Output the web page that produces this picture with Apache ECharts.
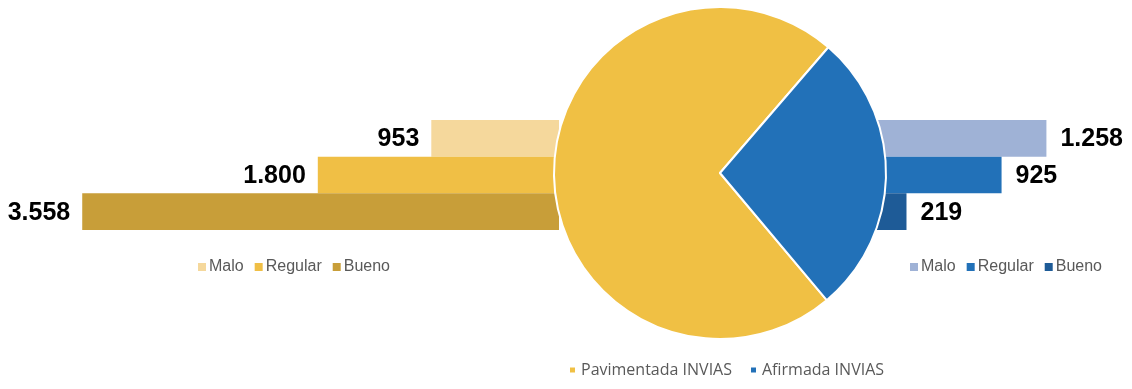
<!DOCTYPE html>
<html>
<head>
<meta charset="utf-8">
<script src="https://cdn.jsdelivr.net/npm/echarts@6/dist/echarts.min.js"></script>
<style>
html,body{margin:0;padding:0;background:#fff;}
#c{width:1132px;height:389px;}
</style>
</head>
<body>
<div id="c"></div>
<script>
// ---- data ----
const condiciones = ['Malo', 'Regular', 'Bueno'];
const pavimentadaValores = [953, 1800, 3558];
const afirmadaValores = [1258, 925, 219];
const pieNombres = ['Pavimentada INVIAS', 'Afirmada INVIAS'];
const pieValores = [6311, 2402];

// ---- styles ----
const pavColors = ['#F5D89C', '#F0BF45', '#C89E39'];
const afiColors = ['#9FB2D6', '#2271B8', '#1E5B97'];
const pieColors = ['#F0C044', '#2271B8'];

function fmt(v) {
  return String(v).replace(/\B(?=(\d{3})+(?!\d))/g, '.');
}
const AFI_SUFFIX = ' (A)';

const labelStyle = {
  show: true,
  fontFamily: 'Liberation Sans, Arial, sans-serif',
  fontWeight: 'bold',
  fontSize: 25,
  color: '#000',
  distance: 12,
  formatter: p => fmt(p.value)
};

const series = [];
condiciones.forEach((name, i) => {
  series.push({
    name: name,
    type: 'bar',
    xAxisIndex: 0, yAxisIndex: 0,
    barGap: '0%', barCategoryGap: '0%',
    data: [pavimentadaValores[i]],
    itemStyle: { color: pavColors[i] },
    label: Object.assign({ position: 'left', offset: [0, 1] }, labelStyle),
    z: 1, silent: true
  });
});
condiciones.forEach((name, i) => {
  series.push({
    name: name + AFI_SUFFIX,
    type: 'bar',
    xAxisIndex: 1, yAxisIndex: 1,
    barGap: '0%', barCategoryGap: '0%',
    data: [afirmadaValores[i]],
    itemStyle: { color: afiColors[i] },
    label: Object.assign({ position: 'right', offset: [0, 1] }, labelStyle, { distance: 14 }),
    z: 1, silent: true
  });
});
series.push({
  type: 'pie',
  center: [720, 173],
  radius: 166,
  startAngle: -50,
  clockwise: true,
  z: 5,
  silent: true,
  label: { show: false },
  labelLine: { show: false },
  itemStyle: { borderColor: '#fff', borderWidth: 2 },
  data: pieNombres.map((n, i) => ({ name: n, value: pieValores[i], itemStyle: { color: pieColors[i] } }))
});

const legendText = {
  fontFamily: 'Liberation Sans, Arial, sans-serif',
  fontSize: 16,
  color: '#595959',
  lineHeight: 16,
  padding: [0, 0, 0, -2]
};

const chart = echarts.init(document.getElementById('c'), null, { renderer: 'canvas' });
chart.setOption({
  animation: false,
  backgroundColor: '#fff',
  grid: [
    { left: 23, width: 536, top: 120, height: 110 },
    { left: 877, width: 202, top: 120, height: 110 }
  ],
  xAxis: [
    { gridIndex: 0, type: 'value', min: 0, max: 4000, inverse: true, show: false },
    { gridIndex: 1, type: 'value', min: 0, max: 1500, show: false }
  ],
  yAxis: [
    { gridIndex: 0, type: 'category', data: ['Red'], inverse: true, show: false },
    { gridIndex: 1, type: 'category', data: ['Red'], inverse: true, show: false }
  ],
  legend: [
    {
      data: condiciones,
      left: 198, top: 259, padding: 0,
      itemWidth: 8, itemHeight: 8, itemGap: 11,
      icon: 'rect',
      selectedMode: false,
      textStyle: legendText
    },
    {
      data: condiciones.map(n => n + AFI_SUFFIX),
      left: 910, top: 259, padding: 0,
      itemWidth: 8, itemHeight: 8, itemGap: 11,
      icon: 'rect',
      selectedMode: false,
      formatter: n => n.replace(AFI_SUFFIX, ''),
      textStyle: legendText
    },
    {
      data: pieNombres,
      left: 568, top: 362, padding: 0,
      itemWidth: 7, itemHeight: 7, itemGap: 17,
      icon: 'rect',
      selectedMode: false,
      textStyle: { fontFamily: 'Open Sans, sans-serif', fontSize: 16, color: '#595959', lineHeight: 16 }
    }
  ],
  series: series
});
</script>
</body>
</html>
